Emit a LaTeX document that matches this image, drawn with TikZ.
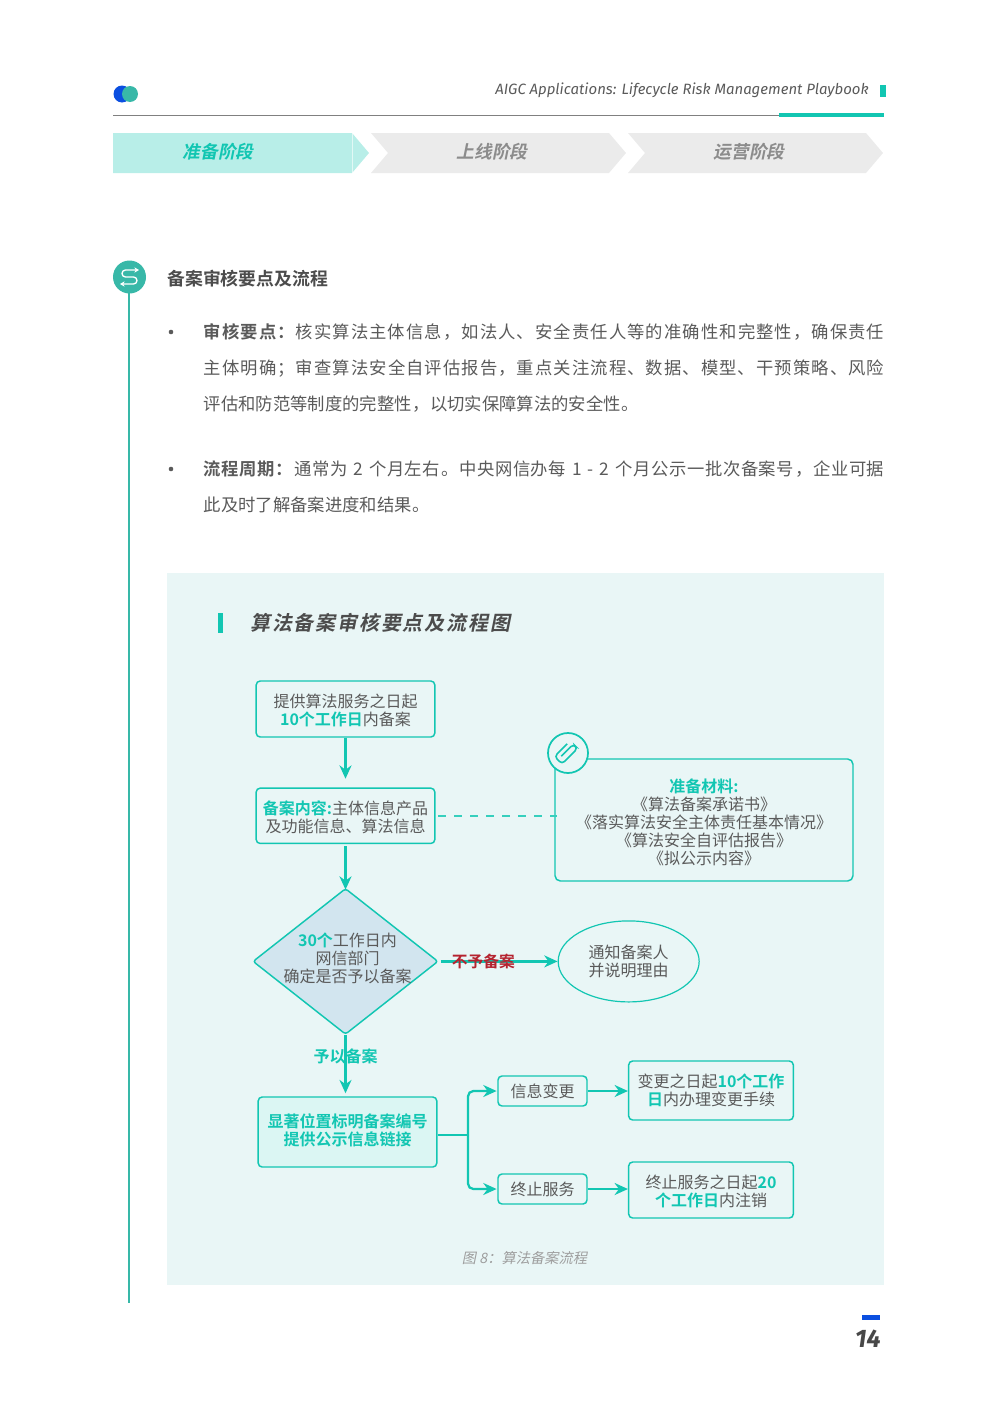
\documentclass[tikz,border=0pt]{standalone}
\usepackage{fontspec}
\setmainfont{Noto Sans CJK SC}[BoldFont={Noto Sans CJK SC Bold}]
\newfontfamily\slantcjk{Noto Sans CJK SC}[BoldFont={Noto Sans CJK SC Bold},FakeSlant=0.2,BoldFeatures={FakeSlant=0.2}]
\newfontfamily\headfont{Fira Sans}
\usetikzlibrary{arrows.meta, positioning, shapes.geometric}
\XeTeXlinebreaklocale "zh"
\XeTeXlinebreakskip=0pt plus 1pt
\definecolor{tealc}{HTML}{12C6B2}
\definecolor{teald}{HTML}{38B8A8}
\definecolor{panelc}{HTML}{E9F6F6}
\definecolor{diamondc}{HTML}{D2E5EF}
\definecolor{textc}{HTML}{5A5A5A}
\definecolor{bluec}{HTML}{0B4FE0}
\definecolor{redc}{HTML}{B5232F}
\newcommand{\hl}[1]{\textbf{\textcolor{tealc}{#1}}}
\newcommand{\bodyfont}{\fontsize{13}{27}\selectfont\addfontfeature{LetterSpace=6}}
\newcommand{\nudge}{\rule{0pt}{13pt}}

\begin{document}
\begin{tikzpicture}[
    x=0.75pt, y=-0.75pt,
    >=Stealth,
    flow/.style={draw=tealc, line width=1.7pt, -{Stealth[length=10pt,width=9pt]}},
    txt/.style={text=textc, font=\fontsize{12}{13.5}\selectfont, align=center, inner sep=0pt},
    flowbox/.style={draw=tealc, line width=1.1pt, rounded corners=3pt, text=textc,
                    font=\fontsize{12}{13.5}\selectfont, align=center, inner sep=0pt},
    stage/.style={font=\slantcjk\bfseries\fontsize{13.3}{15}\selectfont, inner sep=0pt},
    para/.style={anchor=north west, text width=510.4pt, align=justify, inner sep=0pt, text=textc}
  ]
  \useasboundingbox (0,0) rectangle (997,1417);

  % page head
  \fill[bluec] (122,94) circle[radius=8.5];
  \fill[teald] (130,94) circle[radius=8];
  \draw[gray, line width=0.8pt] (113,115.5) -- (884,115.5);
  \fill[tealc] (779,113) rectangle (884,117);
  \fill[tealc] (880,85) rectangle (886,97);
  \node[anchor=east, inner sep=0pt, text=textc, font=\headfont\itshape\fontsize{11.2}{13}\selectfont]
    (doctitle) at (869,90.5) {AIGC Applications: Lifecycle Risk Management Playbook};

  % stages
  \fill[tealc!30] (113,133) -- (352,133) -- (369,153) -- (352,173) -- (113,173) -- cycle;
  \fill[black!8] (371,133) -- (609,133) -- (626,153) -- (609,173) -- (371,173) -- (388,153) -- cycle;
  \fill[black!8] (628,133) -- (866,133) -- (883,153) -- (866,173) -- (628,173) -- (645,153) -- cycle;
  \draw[white, opacity=0.6, line width=0.4pt] (352,133) -- (352,173);
  \node[stage, text=tealc] (stageone) at (218,152) {准备阶段};
  \node[stage, text=black!45] (stagetwo) at (492,152) {上线阶段};
  \node[stage, text=black!45] (stagethree) at (749,152) {运营阶段};

  % section head
  \draw[teald, line width=1.9pt] (129,290) -- (129,1303);
  \fill[teald] (129.5,277) circle[radius=16.5];
  \draw[white, line width=1pt, rounded corners=2.6pt, {Stealth[length=3.5pt,width=4pt]}-{Stealth[length=3.5pt,width=4pt]}]
    (139,270) -- (122,270) -- (122,277) -- (137,277) -- (137,284) -- (120,284);
  \node[anchor=west, inner sep=0pt, text=textc!85!black, font=\bfseries\fontsize{13.4}{15}\selectfont]
    (sectitle) at (167,279) {备案审核要点及流程};

  % text
  \fill[textc] (171,332) circle[radius=2.3];
  \fill[textc] (171,469) circle[radius=2.3];
  \node[para, font=\bodyfont] (paraone) at (203.5,323)
    {\textbf{审核要点：}核实算法主体信息，如法人、安全责任人等的准确性和完整性，确保责任\linebreak
     主体明确；审查算法安全自评估报告，重点关注流程、数据、模型、干预策略、风险\linebreak
     评估和防范等制度的完整性，以切实保障算法的安全性。};
  \node[para, font=\bodyfont] (paratwo) at (203.5,460)
    {\textbf{流程周期：}通常为 2 个月左右。中央网信办每 1 - 2 个月公示一批次备案号，企业可据\linebreak
     此及时了解备案进度和结果。};

  % panel
  \fill[panelc] (167,573) rectangle (884,1285);
  \fill[tealc] (218,613) rectangle (223,633);
  \node[anchor=west, inner sep=0pt, text=textc!85!black,
        font=\slantcjk\bfseries\fontsize{15}{17}\selectfont\addfontfeature{LetterSpace=9}]
    (figtitle) at (250,622.5) {算法备案审核要点及流程图};

  % flow
  \node[flowbox, minimum width=134pt, minimum height=42pt] (provide) at (345.5,709)
    {\nudge 提供算法服务之日起\\\hl{10个工作日}内备案};
  \node[flowbox, minimum width=134pt, minimum height=41.5pt, below=37.25pt of provide] (content)
    {\nudge\hl{备案内容:}主体信息产品\\及功能信息、算法信息};
  \node[diamond, draw=tealc, line width=1.1pt, fill=diamondc, rounded corners=2pt,
        inner sep=0pt, minimum width=139pt, minimum height=109.5pt, below=32.6pt of content,
        label={[txt, xshift=1.5pt, yshift=2pt]center:\hl{30个}工作日内\\网信部门\\确定是否予以备案}] (decide) {};
  \node[flowbox, rounded corners=4pt, minimum width=223.5pt, minimum height=91.5pt] (material) at (704,820)
    {\rule{0pt}{14.5pt}\hl{准备材料:}\\《算法备案承诺书》\\《落实算法安全主体责任基本情况》\\《算法安全自评估报告》\\《拟公示内容》};
  \node[circle, draw=tealc, line width=1.3pt, fill=panelc, minimum size=30pt, inner sep=0pt] (clipmark) at (568,753) {};
  \begin{scope}[shift={(clipmark)}, rotate=-45]
    \draw[tealc, line width=1.2pt, rounded corners=2.6pt]
      (-2.5,7) -- (-2.5,-10) -- (3.5,-10) -- (3.5,12) -- (-7,12) -- (-7,-6);
  \end{scope}
  \node[ellipse, draw=tealc, line width=0.9pt, txt, minimum width=105.75pt, minimum height=60.75pt,
        right=89pt of decide] (notify) {通知备案人\\并说明理由};
  \node[flowbox, fill=tealc!15!white, minimum width=134pt, minimum height=52.5pt,
        label={[txt, yshift=1.5pt]center:\hl{显著位置标明备案编号}\\\hl{提供公示信息链接}}] (publish) at (347.5,1132) {};
  \node[flowbox, minimum width=66.75pt, minimum height=22.5pt] (change) at (542.5,1091) {信息变更};
  \node[flowbox, minimum width=66.75pt, minimum height=22.5pt] (stopsvc) at (542.5,1189) {终止服务};
  \node[flowbox, minimum width=123.5pt, minimum height=44.25pt] (changedl) at (711,1090.5)
    {变更之日起\hl{10个工作}\\\hl{日}内办理变更手续};
  \node[flowbox, minimum width=123.5pt, minimum height=42pt] (stopdl) at (711,1190)
    {\nudge 终止服务之日起\hl{20}\\\hl{个工作日}内注销};
  \coordinate (fork) at (468,1135);

  \draw[flow, shorten >=6.5pt] (provide) -- (content);
  \draw[flow, shorten <=1.5pt, shorten >=-1.5pt] (content) -- (decide);
  \draw[tealc!85, line width=1.1pt, dash pattern=on 6pt off 6pt, shorten <=2pt, shorten >=-2.25pt]
    (content.east) -- (content.east -| material.west);
  \draw[flow, shorten <=1.5pt] (decide.east) -- (notify.west)
    node[pos=0.375, text=redc, font=\bfseries\fontsize{11.8}{14}\selectfont, inner sep=0pt] (refuse) {不予备案};
  \draw[flow, shorten >=2.25pt] (decide.south) -- (decide.south |- publish.north)
    node[pos=0.34, text=tealc, font=\bfseries\fontsize{12}{14}\selectfont, inner sep=0pt] (accept) {予以备案};
  \draw[tealc, line width=1.7pt] (fork -| publish.east) -- (fork);
  \draw[flow, rounded corners=4pt, shorten >=0.5pt] (fork) |- (change);
  \draw[flow, rounded corners=4pt, shorten >=0.5pt] (fork) |- (stopsvc);
  \draw[flow] (change) -- (change -| changedl.west);
  \draw[flow] (stopsvc) -- (stopsvc -| stopdl.west);

  % foot
  \node[text=black!38, inner sep=0pt, font=\slantcjk\fontsize{10.7}{12}\selectfont] (figcap) at (524.5,1258) {图 8：算法备案流程};
  \fill[bluec] (862,1315) rectangle (880,1320);
  \node[text=textc!80!black, inner sep=0pt, font=\headfont\itshape\bfseries\fontsize{19}{21}\selectfont] (pagenum) at (868,1339) {14};
\end{tikzpicture}
\end{document}
